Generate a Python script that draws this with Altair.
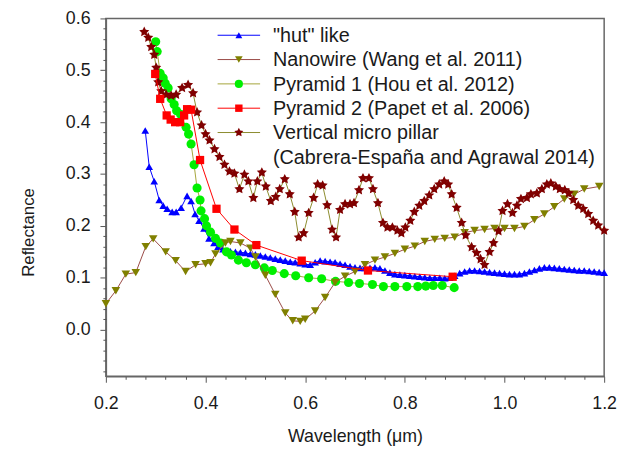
import altair as alt
import pandas as pd

# ---------------- data ----------------
hut_x = [0.279, 0.287, 0.297, 0.307, 0.315, 0.323, 0.333, 0.341, 0.351, 0.363, 0.371, 0.379,
         0.387, 0.397, 0.407, 0.417, 0.425, 0.435, 0.445,
         0.45, 0.46, 0.47, 0.48, 0.49, 0.50, 0.51, 0.52, 0.53, 0.54, 0.55, 0.56, 0.57, 0.58,
         0.59, 0.60, 0.61, 0.62, 0.63, 0.64, 0.65, 0.66, 0.67, 0.68, 0.69, 0.70, 0.71, 0.72,
         0.73, 0.74, 0.75, 0.76, 0.77, 0.78, 0.79, 0.80, 0.81, 0.82, 0.83, 0.84, 0.85, 0.86,
         0.87, 0.88, 0.89, 0.90, 0.91, 0.92, 0.93, 0.94, 0.95, 0.96, 0.97, 0.98, 0.99, 1.00,
         1.01, 1.02, 1.03, 1.04, 1.05, 1.06, 1.07, 1.08, 1.09, 1.10, 1.11, 1.12, 1.13, 1.14,
         1.15, 1.16, 1.17, 1.18, 1.19, 1.20]
hut_y = [0.384, 0.314, 0.286, 0.250, 0.239, 0.233, 0.227, 0.227, 0.235, 0.258, 0.248, 0.223,
         0.210, 0.195, 0.176, 0.167, 0.160, 0.155, 0.152,
         0.151, 0.150, 0.149, 0.148, 0.146, 0.145, 0.143, 0.141, 0.139, 0.137, 0.135, 0.133,
         0.131, 0.130, 0.128, 0.126, 0.125, 0.130, 0.133, 0.132, 0.131, 0.130, 0.127, 0.125,
         0.122, 0.120, 0.119, 0.119, 0.119, 0.120, 0.118, 0.114, 0.110, 0.107, 0.106, 0.105,
         0.104, 0.103, 0.102, 0.101, 0.100, 0.100, 0.100, 0.099, 0.100, 0.104, 0.109, 0.112,
         0.114, 0.114, 0.113, 0.112, 0.111, 0.110, 0.109, 0.108, 0.107, 0.107, 0.107, 0.109,
         0.112, 0.115, 0.118, 0.120, 0.120, 0.119, 0.118, 0.117, 0.116, 0.115, 0.114, 0.114,
         0.113, 0.112, 0.111, 0.110]

nano_x = [0.20, 0.22, 0.24, 0.26, 0.28, 0.295, 0.32, 0.34, 0.36, 0.38, 0.40, 0.41, 0.42, 0.44,
          0.45, 0.47, 0.49, 0.50, 0.52, 0.54, 0.56, 0.575, 0.59, 0.60, 0.62, 0.64, 0.66, 0.68,
          0.70, 0.72, 0.74, 0.76, 0.78, 0.80, 0.82, 0.84, 0.86, 0.88, 0.90, 0.92, 0.94, 0.96,
          0.98, 1.00, 1.02, 1.04, 1.06, 1.08, 1.10, 1.12, 1.14, 1.16, 1.19]
nano_y = [0.050, 0.075, 0.107, 0.110, 0.160, 0.175, 0.150, 0.133, 0.112, 0.125, 0.127, 0.129,
          0.146, 0.167, 0.170, 0.167, 0.157, 0.140, 0.105, 0.068, 0.032, 0.017, 0.016, 0.020,
          0.036, 0.062, 0.091, 0.103, 0.112, 0.125, 0.134, 0.140, 0.147, 0.155, 0.161, 0.170,
          0.174, 0.176, 0.178, 0.187, 0.191, 0.193, 0.195, 0.195, 0.195, 0.199, 0.212, 0.223,
          0.237, 0.252, 0.261, 0.271, 0.276]

pyr1_x = [0.300, 0.303, 0.309, 0.315, 0.319, 0.325, 0.331, 0.337, 0.342, 0.350, 0.361, 0.366,
          0.371, 0.377, 0.383, 0.389, 0.391, 0.398, 0.402, 0.410, 0.420, 0.430, 0.442, 0.452,
          0.466, 0.482, 0.500, 0.518, 0.534, 0.558, 0.581, 0.607, 0.633, 0.661, 0.687, 0.709,
          0.735, 0.757, 0.780, 0.804, 0.826, 0.842, 0.857, 0.875, 0.899]
pyr1_y = [0.555, 0.536, 0.494, 0.485, 0.475, 0.466, 0.445, 0.434, 0.422, 0.415, 0.390, 0.377,
          0.358, 0.318, 0.273, 0.250, 0.229, 0.214, 0.200, 0.188, 0.176, 0.167, 0.150, 0.144,
          0.134, 0.129, 0.125, 0.119, 0.114, 0.108, 0.104, 0.100, 0.098, 0.093, 0.091, 0.089,
          0.087, 0.083, 0.083, 0.083, 0.083, 0.084, 0.085, 0.085, 0.081]

pyr2_x = [0.299, 0.309, 0.322, 0.330, 0.339, 0.349, 0.357, 0.363, 0.371, 0.389, 0.422, 0.458,
          0.502, 0.593, 0.726, 0.896]
pyr2_y = [0.493, 0.445, 0.413, 0.405, 0.400, 0.400, 0.413, 0.425, 0.424, 0.327, 0.233, 0.193,
          0.163, 0.133, 0.114, 0.102]

pillar_x = [0.277, 0.285, 0.291, 0.297, 0.301, 0.305, 0.311, 0.321, 0.331, 0.341,
            0.353, 0.365, 0.375, 0.383, 0.392, 0.400, 0.408, 0.418, 0.428, 0.438,
            0.448, 0.458, 0.468, 0.478, 0.486, 0.496, 0.504, 0.513, 0.521, 0.531,
            0.541, 0.549, 0.559, 0.569, 0.579, 0.587, 0.597, 0.607, 0.617, 0.625,
            0.635, 0.644, 0.654, 0.662, 0.670, 0.680, 0.690, 0.698, 0.708, 0.716,
            0.728, 0.736, 0.746, 0.756, 0.765, 0.775, 0.785, 0.793, 0.801, 0.811,
            0.819, 0.829, 0.839, 0.849, 0.859, 0.869, 0.879, 0.887, 0.894, 0.904,
            0.914, 0.922, 0.934, 0.944, 0.952, 0.960, 0.970, 0.978, 0.988, 0.996,
            1.006, 1.016, 1.025, 1.033, 1.045, 1.053, 1.065, 1.075, 1.085, 1.093,
            1.103, 1.111, 1.121, 1.129, 1.138, 1.148, 1.158, 1.168, 1.178, 1.188, 1.200]
pillar_y = [0.574, 0.563, 0.545, 0.530, 0.505, 0.477, 0.460, 0.453, 0.451, 0.453,
            0.466, 0.472, 0.456, 0.419, 0.394, 0.377, 0.365, 0.348, 0.333, 0.318,
            0.305, 0.301, 0.271, 0.299, 0.286, 0.254, 0.286, 0.303, 0.276, 0.248,
            0.256, 0.271, 0.290, 0.261, 0.227, 0.178, 0.186, 0.225, 0.254, 0.280,
            0.278, 0.240, 0.193, 0.178, 0.231, 0.242, 0.242, 0.244, 0.269, 0.292,
            0.292, 0.271, 0.244, 0.206, 0.197, 0.197, 0.191, 0.186, 0.197, 0.210,
            0.227, 0.239, 0.248, 0.259, 0.271, 0.280, 0.286, 0.280, 0.261, 0.235,
            0.206, 0.182, 0.159, 0.148, 0.136, 0.125, 0.150, 0.167, 0.190, 0.229,
            0.242, 0.225, 0.239, 0.252, 0.254, 0.261, 0.263, 0.271, 0.280, 0.282,
            0.276, 0.271, 0.269, 0.263, 0.250, 0.239, 0.233, 0.223, 0.210, 0.201, 0.191]

series_names = ['"hut" like', "Nanowire (Wang et al. 2011)", "Pyramid 1 (Hou et al. 2012)",
                "Pyramid 2 (Papet et al. 2006)",
                "Vertical micro pillar\n(Cabrera-España and Agrawal 2014)"]
series_x = [hut_x, nano_x, pyr1_x, pyr2_x, pillar_x]
series_y = [hut_y, nano_y, pyr1_y, pyr2_y, pillar_y]

x_ticks = [0.2, 0.4, 0.6, 0.8, 1.0, 1.2]
y_ticks = [0.0, 0.1, 0.2, 0.3, 0.4, 0.5, 0.6]

# ---------------- styles ----------------
STAR = ("M0,-1L0.294,-0.405L0.951,-0.309L0.476,0.155L0.588,0.809L0,0.5"
        "L-0.588,0.809L-0.476,0.155L-0.951,-0.309L-0.294,-0.405Z")
line_colors = ["#0000FF", "#9A4A46", "#A5A53A", "#FF0000", "#8C8C2E"]
marker_colors = ["#0000FF", "#808000", "#00F000", "#FF0000", "#800000"]
shapes = ["triangle-up", "triangle-down", "circle", "square", STAR]
sizes = [60, 75, 85, 70, 115]
draw_order = [0, 2, 1, 4, 3]

FONT = "Liberation Sans"
TXT = "#1a1a1a"
PLOT_H = 362
x_scale = alt.Scale(domain=[0.2, 1.2], nice=False, zero=False)
y_scale = alt.Scale(domain=[-0.09, 0.6], nice=False, zero=False)

x_minor = [round(0.2 + 0.04 * i, 2) for i in range(26) if i % 5 != 0]
y_minor = [round(-0.08 + 0.02 * i, 2) for i in range(34) if (i - 4) % 5 != 0]

major_x_axis = alt.Axis(values=x_ticks, format=".1f", title="Wavelength (μm)", grid=False,
                        orient="bottom",
                        tickSize=6, labelPadding=13, titlePadding=15, labelFontSize=18,
                        titleFontSize=18, labelFont=FONT, titleFont=FONT, labelColor=TXT,
                        titleColor=TXT, titleFontWeight="normal", domainColor="#666666",
                        domainWidth=1.5, tickColor="#555555", labelFlush=False)
major_y_axis = alt.Axis(values=y_ticks, format=".1f", title="Reflectance", grid=False,
                        orient="left", titleY=216,
                        tickSize=6, labelPadding=10, titlePadding=28, labelFontSize=18,
                        titleFontSize=17, labelFont=FONT, titleFont=FONT, labelColor=TXT,
                        titleColor=TXT, titleFontWeight="normal", domainColor="#666666",
                        domainWidth=1.5, tickColor="#555555", labelFlush=False)
minor_x_axis = alt.Axis(values=x_minor, labels=False, domain=False, grid=False, tickSize=3,
                        tickColor="#555555", title=None, orient="bottom")
minor_y_axis = alt.Axis(values=y_minor, labels=False, domain=False, grid=False, tickSize=3,
                        tickColor="#555555", title=None, orient="left")

layers = []
frames = []
for i in range(5):
    df = pd.DataFrame({"x": series_x[i], "y": series_y[i]})
    frames.append(df)

# axis carrier layers
layers.append(alt.Chart(frames[0]).mark_point(opacity=0).encode(
    x=alt.X("x:Q", scale=x_scale, axis=major_x_axis),
    y=alt.Y("y:Q", scale=y_scale, axis=major_y_axis)))
layers.append(alt.Chart(frames[0]).mark_point(opacity=0).encode(
    x=alt.X("x:Q", scale=x_scale, axis=minor_x_axis),
    y=alt.Y("y:Q", scale=y_scale, axis=minor_y_axis)))

for i in draw_order:
    base = alt.Chart(frames[i]).encode(
        x=alt.X("x:Q", scale=x_scale, axis=None),
        y=alt.Y("y:Q", scale=y_scale, axis=None))
    layers.append(base.mark_line(stroke=line_colors[i], strokeWidth=1))
    layers.append(base.mark_point(shape=shapes[i], filled=True, fill=marker_colors[i],
                                  size=sizes[i], opacity=1, strokeWidth=0))

# legend (drawn inside the plot, top)
leg_df = pd.DataFrame({"k": [0]})
row_y = 17
for i in range(5):
    lines = series_names[i].split("\n")
    layers.append(alt.Chart(leg_df).mark_rule(stroke=line_colors[i], strokeWidth=1).encode(
        x=alt.value(113), x2=alt.value(156), y=alt.value(row_y)))
    layers.append(alt.Chart(leg_df).mark_point(shape=shapes[i], filled=True,
                                               fill=marker_colors[i], size=sizes[i] * 0.8,
                                               opacity=1, strokeWidth=0).encode(
        x=alt.value(134.5), y=alt.value(row_y)))
    for ln in lines:
        layers.append(alt.Chart(leg_df).mark_text(align="left", baseline="middle", font=FONT,
                                                  fontSize=20, color=TXT).encode(
            x=alt.value(169), y=alt.value(row_y + 1), text=alt.value(ln)))
        row_y += 24.6

chart = alt.layer(*layers).resolve_axis(x="independent", y="independent").properties(
    width=504, height=PLOT_H,
    autosize=alt.AutoSizeParams(type="none"),
    padding={"left": 99, "top": 8, "right": 14, "bottom": 74},
    background="white",
).configure_view(stroke="#666666", strokeWidth=1.5)

chart.save("out.html", embed_options={"renderer": "svg", "actions": False})
